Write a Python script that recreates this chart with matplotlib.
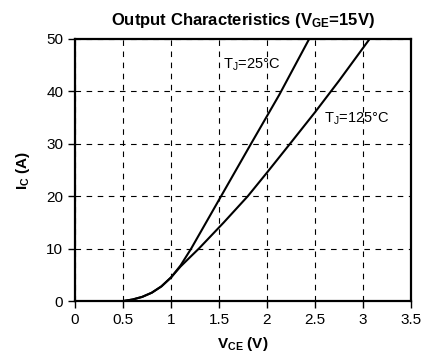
import matplotlib
matplotlib.use("Agg")
import matplotlib.pyplot as plt

plt.rcParams["font.family"] = ["Liberation Sans", "DejaVu Sans"]
plt.rcParams["mathtext.default"] = "regular"

# collector current vs V_CE
vce_25 = [0.0, 0.5, 0.6, 0.7, 0.8, 0.9, 1.0, 1.1, 1.21, 1.5, 1.84, 2.13, 2.44]
ic_25 = [0, 0, 0.3, 0.8, 1.6, 2.8, 4.5, 6.8, 10, 19.3, 30.2, 39.4, 50]

vce_125 = [0.0, 0.5, 0.6, 0.7, 0.8, 0.9, 1.0, 1.1, 1.2, 1.29, 1.55, 1.8, 2.0, 2.24, 2.5, 2.75, 3.07]
ic_125 = [0, 0, 0.3, 0.8, 1.6, 2.8, 4.5, 6.6, 8.4, 10, 15, 20, 24.5, 30, 36, 42, 50]

x_ticks = [0, 0.5, 1, 1.5, 2, 2.5, 3, 3.5]
x_labels = ["0", "0.5", "1", "1.5", "2", "2.5", "3", "3.5"]
y_ticks = [0, 10, 20, 30, 40, 50]

fig = plt.figure(figsize=(4.24, 3.61), dpi=100)
ax = fig.add_axes([0.177, 0.166, 0.792, 0.726])

ax.plot(vce_25, ic_25, color="black", lw=1.5)
ax.plot(vce_125, ic_125, color="black", lw=1.5)

ax.set_xlim(0, 3.5)
ax.set_ylim(0, 50)
ax.set_xticks(x_ticks)
ax.set_xticklabels(x_labels)
ax.set_yticks(y_ticks)
ax.tick_params(direction="out", length=5, width=1, labelsize=11, colors="black")
ax.grid(True, color="black", ls=(0, (5, 5)), lw=0.8)
for sp in ax.spines.values():
    sp.set_linewidth(1.6)

ax.text(1.54, 45, r"T$_J$=25°C", fontsize=10.5, va="center", ha="left")
ax.text(2.59, 34.7, r"T$_J$=125°C", fontsize=10.5, va="center", ha="left")

ax.set_title(r"Output Characteristics (V$_{GE}$=15V)", fontsize=12, fontweight="bold", pad=10)
ax.set_xlabel(r"V$_{CE}$ (V)", fontsize=11, fontweight="bold", labelpad=6)
ax.set_ylabel(r"I$_C$ (A)", fontsize=11, fontweight="bold", labelpad=10)

fig.savefig("out.png", dpi=100)
